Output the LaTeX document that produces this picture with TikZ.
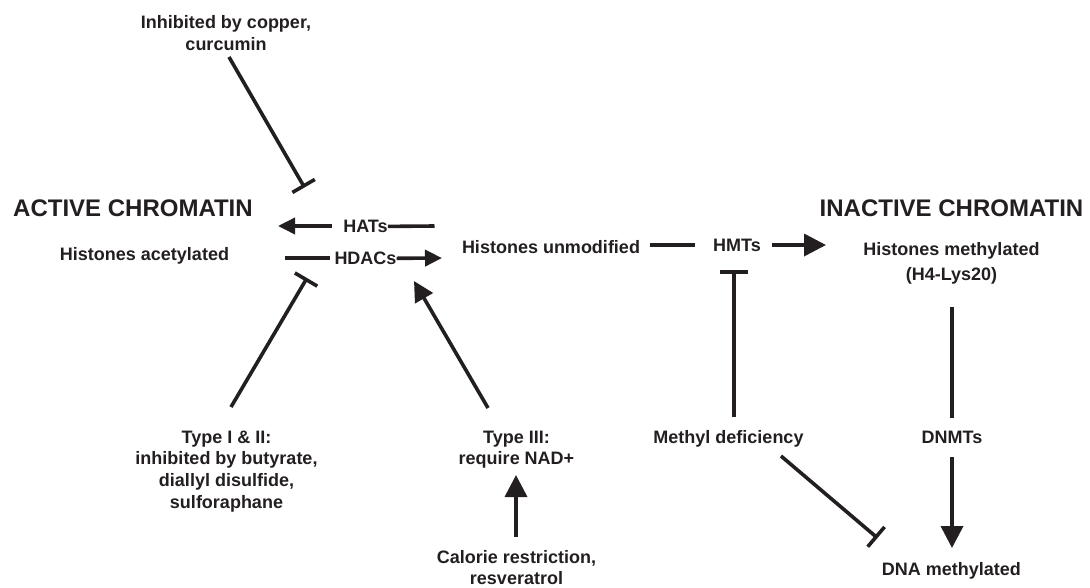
\documentclass[tikz,border=0pt]{standalone}
\usepackage{fontspec}
\setmainfont{Liberation Sans}
\usetikzlibrary{arrows.meta}
\definecolor{ink}{RGB}{35,31,32}
\begin{document}
\begin{tikzpicture}[x=1pt,y=-1pt,
  lbl/.style={font=\bfseries\fontsize{18}{21.7}\selectfont, text=ink, inner sep=0pt, align=center},
  head/.style={font=\bfseries\fontsize{24}{28}\selectfont, text=ink, inner sep=0pt},
  link/.style={draw=ink, line width=3.6pt},
  act/.style={link, -{Triangle[length=22pt,width=22pt]}},
  actmid/.style={link, -{Triangle[length=20pt,width=20pt]}},
  actsmall/.style={link, -{Triangle[length=17pt,width=16pt]}},
  inh/.style={link, -{Bar[width=26pt,line width=3.6pt]}}]
\useasboundingbox (0,0) rectangle (1090,587);

% headings
\node[head, anchor=base west] (active) at (13,216.6) {ACTIVE CHROMATIN};
\node[head, anchor=base] (inactive) at (951.5,216.6) {INACTIVE CHROMATIN};

% labels
\node[lbl, anchor=north] (copper) at (226,15.5) {Inhibited by copper,\\curcumin};
\node[lbl, anchor=base] (hacet) at (144.5,260.5) {Histones acetylated};
\node[lbl, anchor=base] (hats) at (365.5,232.5) {HATs};
\node[lbl, anchor=base] (hdacs) at (365.5,264.5) {HDACs};
\node[lbl, anchor=base] (hunmod) at (551,253.5) {Histones unmodified};
\node[lbl, anchor=base] (hmts) at (737,251.5) {HMTs};
\node[lbl, anchor=north] (hmeth) at (951.5,242.5) {Histones methylated\\[3pt](H4-Lys20)};
\node[lbl, anchor=base] (dnmts) at (952,443.5) {DNMTs};
\node[lbl, anchor=base] (methdef) at (728.5,443.5) {Methyl deficiency};
\node[lbl, anchor=base] (dnameth) at (951.5,575.5) {DNA methylated};
\node[lbl, anchor=north] (type12) at (226.5,430.5) {Type I \& II:\\inhibited by butyrate,\\diallyl disulfide,\\sulforaphane};
\node[lbl, anchor=north] (type3) at (516.5,430.5) {Type III:\\require NAD+};
\node[lbl, anchor=north] (calorie) at (516.5,550) {Calorie restriction,\\resveratrol};

% connector end points
\coordinate (cuS) at (229,57);
\coordinate (cuE) at (304.5,187.5);
\coordinate (hatR) at (434.5,226);
\coordinate (hatM) at (332,226);
\coordinate (hatL) at (278,226);
\coordinate (hdL) at (285,258);
\coordinate (hdM) at (330,258);
\coordinate (hdR) at (442,258);
\coordinate (t12S) at (231,407);
\coordinate (t12E) at (307,278);
\coordinate (t3S) at (488,408);
\coordinate (t3E) at (414,281);
\coordinate (calS) at (516,537);
\coordinate (calE) at (516,475);
\coordinate (hmL) at (650,245);
\coordinate (hmM) at (695,245);
\coordinate (hmA) at (772,245);
\coordinate (hmR) at (826,245);
\coordinate (mdS) at (734,417);
\coordinate (mdE) at (734,270);
\coordinate (dnT) at (952,307);
\coordinate (dnB) at (952,418);
\coordinate (dnA) at (952,457);
\coordinate (dnE) at (952,548);
\coordinate (m2S) at (781,456);
\coordinate (m2E) at (877.5,538);

% connectors
\draw[inh] (cuS) -- (cuE);
\draw[link] (hatR) -- (hats.east);
\draw[actsmall] (hatM) -- (hatL);
\draw[link] (hdL) -- (hdM);
\draw[actsmall] (hdacs.east) -- (hdR);
\draw[inh] (t12S) -- (t12E);
\draw[actmid] (t3S) -- (t3E);
\draw[act] (calS) -- (calE);
\draw[link] (hmL) -- (hmM);
\draw[act] (hmA) -- (hmR);
\draw[link, -{Bar[width=28pt,line width=3.6pt]}] (mdS) -- (mdE);
\draw[link] (dnT) -- (dnB);
\draw[act] (dnA) -- (dnE);
\draw[inh] (m2S) -- (m2E);
\end{tikzpicture}
\end{document}
